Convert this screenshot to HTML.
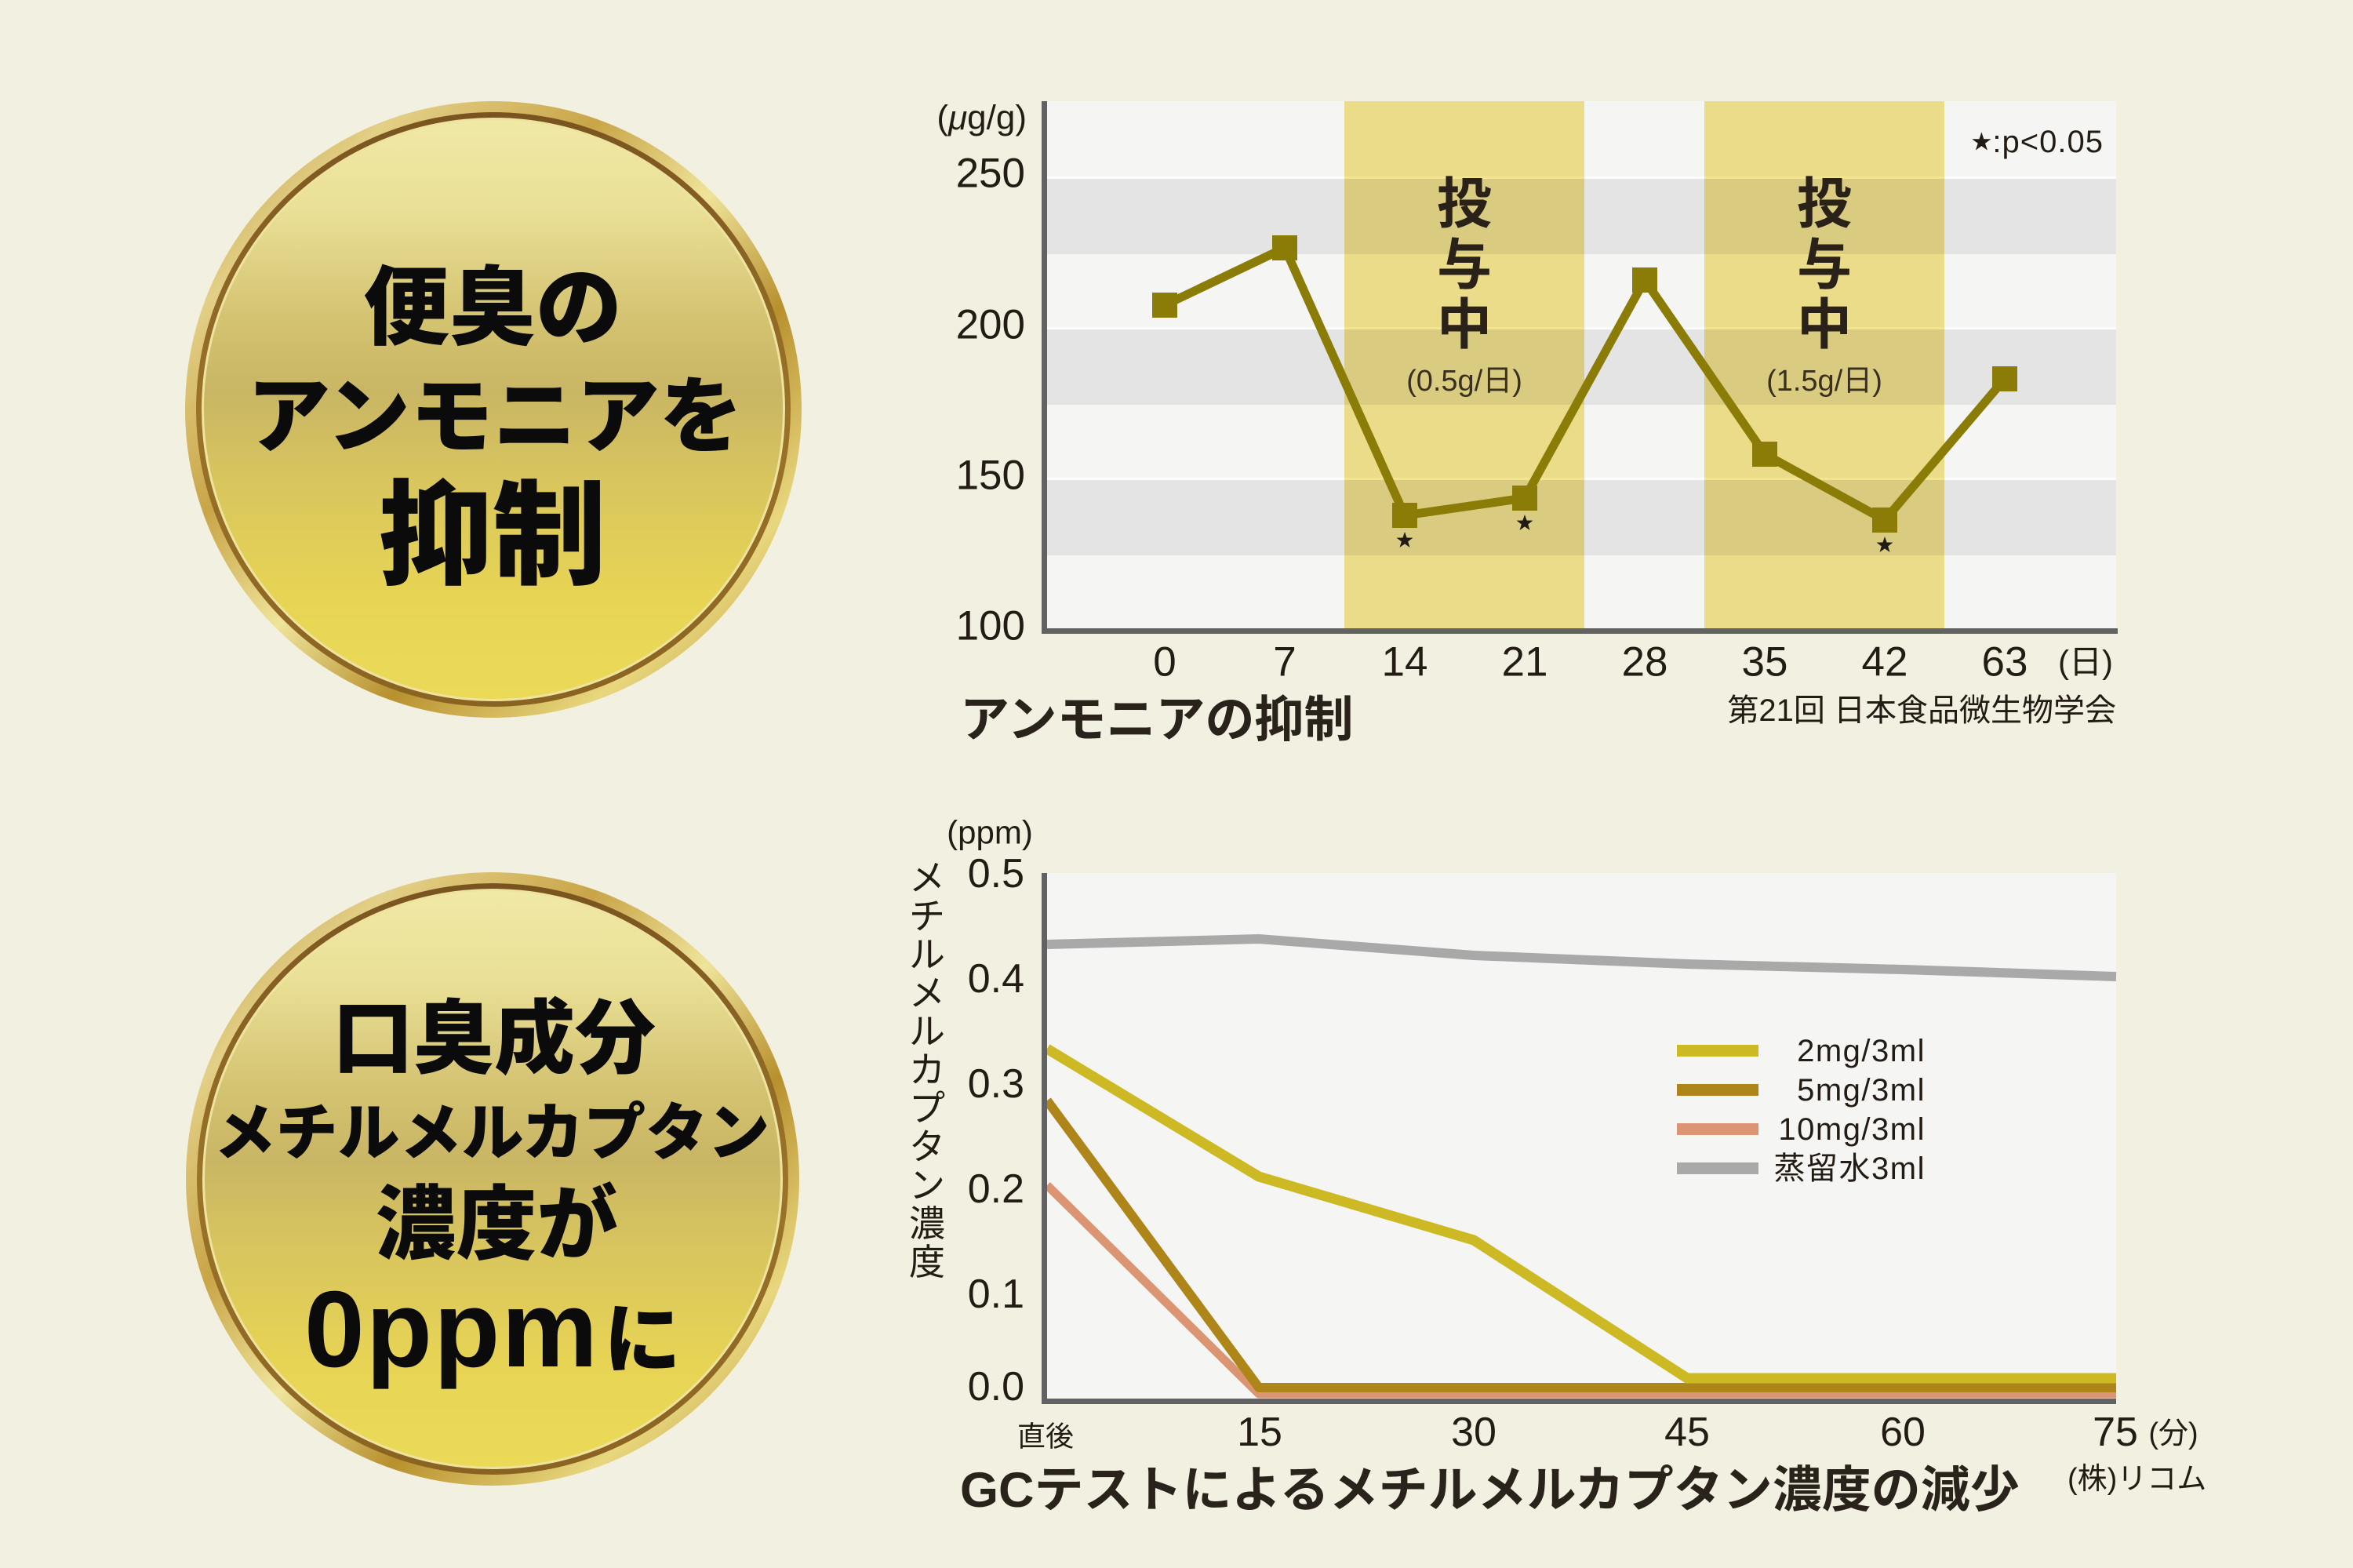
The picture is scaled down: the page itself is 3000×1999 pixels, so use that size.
<!DOCTYPE html>
<html>
<head>
<meta charset="utf-8">
<style>
html,body{margin:0;padding:0;background:#f2f0e1;}
body{width:3000px;height:1999px;overflow:hidden;}
svg{display:block;}
.t{font-family:"Liberation Sans","Noto Sans CJK JP",sans-serif;fill:#231c14;}
.b{font-weight:700;}
.k{font-family:"Liberation Sans","Noto Sans CJK JP",sans-serif;font-weight:900;fill:#0b0b0b;}
</style>
</head>
<body>
<svg width="3000" height="1999" viewBox="0 0 3000 1999" xmlns="http://www.w3.org/2000/svg">
<defs>
  <linearGradient id="ring" x1="0" y1="0" x2="1" y2="1">
    <stop offset="0" stop-color="#b8922f"/>
    <stop offset="0.18" stop-color="#e3cf86"/>
    <stop offset="0.35" stop-color="#c9a548"/>
    <stop offset="0.5" stop-color="#efe49a"/>
    <stop offset="0.65" stop-color="#b8902e"/>
    <stop offset="0.82" stop-color="#e8d77e"/>
    <stop offset="1" stop-color="#b38a2a"/>
  </linearGradient>
  <linearGradient id="dark" x1="0" y1="0" x2="0" y2="1">
    <stop offset="0" stop-color="#7a5420"/>
    <stop offset="0.5" stop-color="#9a7428"/>
    <stop offset="1" stop-color="#8a6322"/>
  </linearGradient>
  <linearGradient id="disk" x1="0" y1="0" x2="0" y2="1">
    <stop offset="0" stop-color="#f0e8a6"/>
    <stop offset="0.15" stop-color="#eae097"/>
    <stop offset="0.35" stop-color="#d3c270"/>
    <stop offset="0.47" stop-color="#c9b664"/>
    <stop offset="0.62" stop-color="#d8c55e"/>
    <stop offset="0.82" stop-color="#e7d454"/>
    <stop offset="1" stop-color="#ebda58"/>
  </linearGradient>
</defs>

<!-- Circle 1 -->
<g>
  <circle cx="629" cy="522" r="393" fill="url(#ring)"/>
  <circle cx="629" cy="522" r="379" fill="url(#dark)"/>
  <circle cx="629" cy="522" r="372" fill="#efe3a0"/>
  <circle cx="629" cy="522" r="369" fill="url(#disk)"/>
  <text class="k" x="628" y="393" font-size="110" text-anchor="middle" dominant-baseline="central">便臭の</text>
  <text class="k" x="631" y="532" font-size="106" text-anchor="middle" dominant-baseline="central">アンモニアを</text>
  <text class="k" x="628" y="683" font-size="145" text-anchor="middle" dominant-baseline="central">抑制</text>
</g>

<!-- Circle 2 -->
<g>
  <circle cx="628" cy="1503" r="391" fill="url(#ring)"/>
  <circle cx="628" cy="1503" r="377" fill="url(#dark)"/>
  <circle cx="628" cy="1503" r="370" fill="#efe3a0"/>
  <circle cx="628" cy="1503" r="367" fill="url(#disk)"/>
  <text class="k" x="630" y="1324" font-size="103" text-anchor="middle" dominant-baseline="central">口臭成分</text>
  <text class="k" x="627" y="1444" font-size="79" text-anchor="middle" dominant-baseline="central">メチルメルカプタン</text>
  <text class="k" x="633" y="1561" font-size="103" text-anchor="middle" dominant-baseline="central">濃度が</text>
  <text class="k" x="388" y="1742" font-size="138" letter-spacing="2">0ppm<tspan font-size="98" dx="6">に</tspan></text>
</g>

<!-- Chart 1 -->
<g>
  <rect x="1335" y="129" width="1363" height="672" fill="#f5f5f3"/>
  <rect x="1335" y="228" width="1363" height="96" fill="#e3e4e3"/>
  <rect x="1335" y="420" width="1363" height="96" fill="#e3e4e3"/>
  <rect x="1335" y="612" width="1363" height="96" fill="#e3e4e3"/>
  <rect x="1335" y="225" width="1363" height="3" fill="#ffffff"/>
  <rect x="1335" y="417" width="1363" height="3" fill="#ffffff"/>
  <rect x="1335" y="609" width="1363" height="3" fill="#ffffff"/>
  <rect x="1714" y="129" width="306" height="672" fill="#f4e590" style="mix-blend-mode:multiply"/>
  <rect x="2173" y="129" width="306" height="672" fill="#f4e590" style="mix-blend-mode:multiply"/>

  <!-- axes -->
  <rect x="1328" y="129" width="7" height="679" fill="#626262"/>
  <rect x="1328" y="801" width="1372" height="7" fill="#626262"/>

  <!-- dosing labels -->
  <g class="t b" font-size="70" text-anchor="middle" dominant-baseline="central" style="fill:#2a2218">
    <text x="1867" y="260">投</text>
    <text x="1867" y="338">与</text>
    <text x="1867" y="414">中</text>
    <text x="2326" y="260">投</text>
    <text x="2326" y="338">与</text>
    <text x="2326" y="414">中</text>
  </g>
  <text class="t" x="1867" y="486" font-size="38" text-anchor="middle" dominant-baseline="central" style="fill:#3a3020">(0.5g/日)</text>
  <text class="t" x="2326" y="486" font-size="38" text-anchor="middle" dominant-baseline="central" style="fill:#3a3020">(1.5g/日)</text>

  <!-- series -->
  <polyline points="1485,389 1638,316 1791,657 1944,635 2097,357 2250,579 2403,663 2556,483" fill="none" stroke="#8b7b07" stroke-width="11" stroke-linejoin="round"/>
  <g fill="#8b7b07">
    <rect x="1469" y="373" width="32" height="32"/>
    <rect x="1622" y="300" width="32" height="32"/>
    <rect x="1775" y="641" width="32" height="32"/>
    <rect x="1928" y="619" width="32" height="32"/>
    <rect x="2081" y="341" width="32" height="32"/>
    <rect x="2234" y="563" width="32" height="32"/>
    <rect x="2387" y="647" width="32" height="32"/>
    <rect x="2540" y="467" width="32" height="32"/>
  </g>
  <g fill="#231a14">
    <polygon transform="translate(1791,689)" points="0,-11 2.586,-3.56 10.462,-3.399 4.185,1.36 6.466,8.899 0,4.4 -6.466,8.899 -4.185,1.36 -10.462,-3.399 -2.586,-3.56"/>
    <polygon transform="translate(1944,667)" points="0,-11 2.586,-3.56 10.462,-3.399 4.185,1.36 6.466,8.899 0,4.4 -6.466,8.899 -4.185,1.36 -10.462,-3.399 -2.586,-3.56"/>
    <polygon transform="translate(2403,695)" points="0,-11 2.586,-3.56 10.462,-3.399 4.185,1.36 6.466,8.899 0,4.4 -6.466,8.899 -4.185,1.36 -10.462,-3.399 -2.586,-3.56"/>
  </g>

  <text class="t" x="2682" y="181" font-size="40" text-anchor="end" dominant-baseline="central" letter-spacing="1"><tspan font-size="26">★</tspan>:p&lt;0.05</text>

  <!-- y labels -->
  <text class="t" x="1309" y="150" font-size="44" text-anchor="end" dominant-baseline="central">(<tspan font-style="italic">μ</tspan>g/g)</text>
  <g class="t" font-size="53" text-anchor="end" dominant-baseline="central">
    <text x="1307" y="221">250</text>
    <text x="1307" y="414">200</text>
    <text x="1307" y="606">150</text>
    <text x="1307" y="798">100</text>
  </g>
  <!-- x labels -->
  <g class="t" font-size="53" text-anchor="middle" dominant-baseline="central">
    <text x="1485" y="844">0</text>
    <text x="1638" y="844">7</text>
    <text x="1791" y="844">14</text>
    <text x="1944" y="844">21</text>
    <text x="2097" y="844">28</text>
    <text x="2250" y="844">35</text>
    <text x="2403" y="844">42</text>
    <text x="2556" y="844">63</text>
  </g>
  <text class="t" x="2659" y="844" font-size="42" text-anchor="middle" dominant-baseline="central">(日)</text>

  <text class="t b" x="1224" y="918" font-size="63" dominant-baseline="central" style="fill:#2a231c">アンモニアの抑制</text>
  <text class="t" x="2698" y="906" font-size="40" text-anchor="end" dominant-baseline="central">第21回 日本食品微生物学会</text>
</g>

<!-- Chart 2 -->
<g>
  <rect x="1335" y="1113" width="1363" height="670" fill="#f5f5f3"/>

  <!-- series -->
  <polyline points="1335,1204 1605,1197 1879,1218 2151,1229 2426,1236 2698,1245" fill="none" stroke="#a9a9a9" stroke-width="12" stroke-linejoin="round"/>
  <polyline points="1335,1511 1605,1777 2698,1777" fill="none" stroke="#db9573" stroke-width="11" stroke-linejoin="round"/>
  <polyline points="1335,1403 1605,1769 2698,1769" fill="none" stroke="#ae8519" stroke-width="12" stroke-linejoin="round"/>
  <polyline points="1335,1337 1605,1500 1879,1581 2151,1757 2698,1757" fill="none" stroke="#cdb923" stroke-width="13" stroke-linejoin="round"/>

  <!-- axes -->
  <rect x="1328" y="1113" width="7" height="677" fill="#626262"/>
  <rect x="1328" y="1783" width="1370" height="7" fill="#626262"/>

  <!-- legend -->
  <rect x="2138" y="1332" width="104" height="15" fill="#cdb923"/>
  <rect x="2138" y="1382" width="104" height="15" fill="#ae8519"/>
  <rect x="2138" y="1432" width="104" height="15" fill="#db9573"/>
  <rect x="2138" y="1482" width="104" height="15" fill="#a9a9a9"/>
  <g class="t" font-size="40" text-anchor="end" dominant-baseline="central" letter-spacing="1.5">
    <text x="2455" y="1340">2mg/3ml</text>
    <text x="2455" y="1390">5mg/3ml</text>
    <text x="2455" y="1440">10mg/3ml</text>
    <text x="2455" y="1490">蒸留水3ml</text>
  </g>

  <!-- y labels -->
  <text class="t" x="1262" y="1061" font-size="42" text-anchor="middle" dominant-baseline="central">(ppm)</text>
  <g class="t" font-size="52" text-anchor="end" dominant-baseline="central">
    <text x="1306" y="1114">0.5</text>
    <text x="1306" y="1248">0.4</text>
    <text x="1306" y="1382">0.3</text>
    <text x="1306" y="1516">0.2</text>
    <text x="1306" y="1650">0.1</text>
    <text x="1306" y="1768">0.0</text>
  </g>
  <g class="t" font-size="46" text-anchor="middle" dominant-baseline="central">
    <text x="1182" y="1119">メ</text>
    <text x="1182" y="1168">チ</text>
    <text x="1182" y="1217">ル</text>
    <text x="1182" y="1266">メ</text>
    <text x="1182" y="1315">ル</text>
    <text x="1182" y="1364">カ</text>
    <text x="1182" y="1413">プ</text>
    <text x="1182" y="1462">タ</text>
    <text x="1182" y="1511">ン</text>
    <text x="1182" y="1560">濃</text>
    <text x="1182" y="1609">度</text>
  </g>

  <!-- x labels -->
  <text class="t" x="1333" y="1831" font-size="36" text-anchor="middle" dominant-baseline="central">直後</text>
  <g class="t" font-size="52" text-anchor="middle" dominant-baseline="central">
    <text x="1606" y="1826">15</text>
    <text x="1879" y="1826">30</text>
    <text x="2151" y="1826">45</text>
    <text x="2426" y="1826">60</text>
    <text x="2697" y="1826">75</text>
  </g>
  <text class="t" x="2771" y="1828" font-size="38" text-anchor="middle" dominant-baseline="central">(分)</text>

  <text class="t b" x="1224" y="1900" font-size="63" dominant-baseline="central" style="fill:#2a231c">GCテストによるメチルメルカプタン濃度の減少</text>
  <text class="t" x="2636" y="1886" font-size="38" dominant-baseline="central">(株)リコム</text>
</g>
</svg>
</body>
</html>
